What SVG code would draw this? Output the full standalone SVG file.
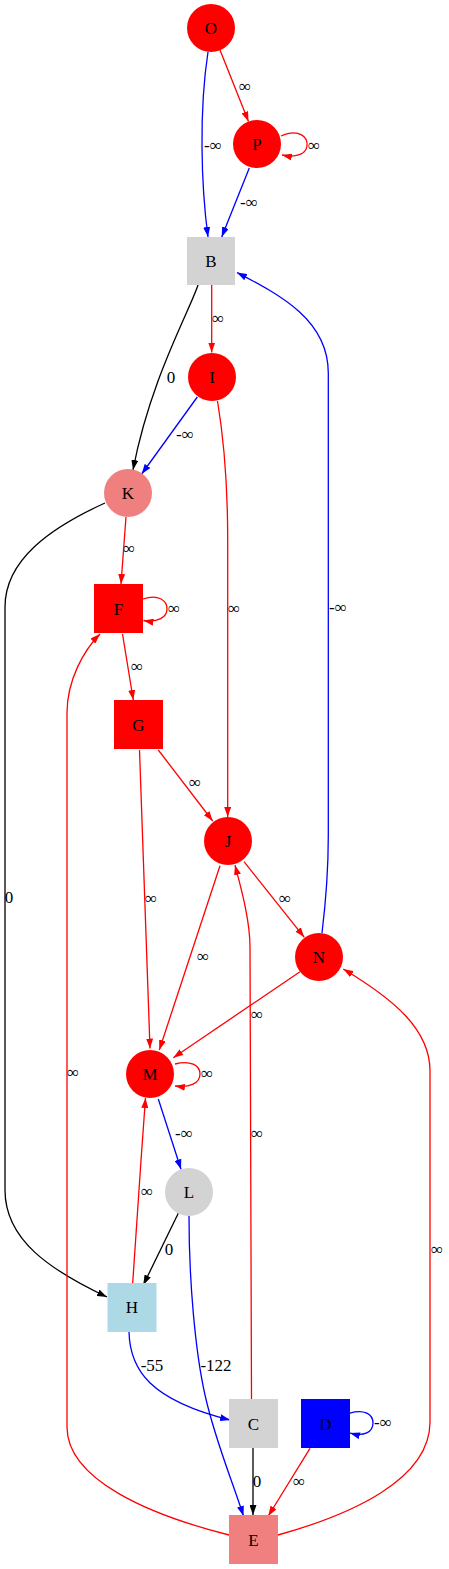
<svg xmlns="http://www.w3.org/2000/svg" width="449" height="1569" viewBox="0 0 449 1569">
<style>
.lbl{font-family:"Liberation Serif","Times New Roman",serif;font-size:17px;text-anchor:middle;fill:#000}
.e{fill:none;stroke-width:1.3}
.r{stroke:#ff0000}
.b{stroke:#0000ff}
.k{stroke:#000000}
</style>
<defs>
<marker id="ar" viewBox="0 0 10 7" refX="10" refY="3.5" markerWidth="10" markerHeight="7" markerUnits="userSpaceOnUse" orient="auto"><path d="M0,0 L10,3.5 L0,7 Z" fill="#ff0000"/></marker>
<marker id="ab" viewBox="0 0 10 7" refX="10" refY="3.5" markerWidth="10" markerHeight="7" markerUnits="userSpaceOnUse" orient="auto"><path d="M0,0 L10,3.5 L0,7 Z" fill="#0000ff"/></marker>
<marker id="ak" viewBox="0 0 10 7" refX="10" refY="3.5" markerWidth="10" markerHeight="7" markerUnits="userSpaceOnUse" orient="auto"><path d="M0,0 L10,3.5 L0,7 Z" fill="#000000"/></marker>
</defs>
<rect width="449" height="1569" fill="#ffffff"/>
<g id="edges">
<path class="e r" marker-end="url(#ar)" d="M220,50 L248.5,121.5"/>
<text class="lbl" x="245" y="92">∞</text>
<path class="e b" marker-end="url(#ab)" d="M208,52 C199,110 201,185 208,237"/>
<text class="lbl" x="213" y="151">-∞</text>
<path class="e r" marker-end="url(#ar)" d="M281,136 C299,128 308,137 307,146 C306,154 296,158 282,155"/>
<text class="lbl" x="314" y="151">∞</text>
<path class="e b" marker-end="url(#ab)" d="M249.3,168 L221.7,237"/>
<text class="lbl" x="249" y="208">-∞</text>
<path class="e r" marker-end="url(#ar)" d="M211.7,285 L211.7,352.5"/>
<text class="lbl" x="218" y="324">∞</text>
<path class="e k" marker-end="url(#ak)" d="M198,285 C190,310 150,380 133,470"/>
<text class="lbl" x="171" y="383">0</text>
<path class="e b" marker-end="url(#ab)" d="M197.3,397 L141.7,474"/>
<text class="lbl" x="185" y="440">-∞</text>
<path class="e r" marker-end="url(#ar)" d="M217.5,401 C224,440 227.7,480 227.7,540 L227.7,817"/>
<text class="lbl" x="234" y="614">∞</text>
<path class="e r" marker-end="url(#ar)" d="M126,517 L121,584"/>
<text class="lbl" x="129" y="554">∞</text>
<path class="e k" marker-end="url(#ak)" d="M105,503 C50,528 5,560 5,607 L5,1190 C5,1240 50,1270 107,1297"/>
<text class="lbl" x="9" y="903">0</text>
<path class="e r" marker-end="url(#ar)" d="M143,599 C158,594 167,600 167,609 C167,617 158,623 143.5,620.5"/>
<text class="lbl" x="174" y="614">∞</text>
<path class="e r" marker-end="url(#ar)" d="M122.5,634 L133.3,700"/>
<text class="lbl" x="137" y="672">∞</text>
<path class="e r" marker-end="url(#ar)" d="M158.3,750 L212.7,821"/>
<text class="lbl" x="195" y="788">∞</text>
<path class="e r" marker-end="url(#ar)" d="M139.5,750 L150,1048.5"/>
<text class="lbl" x="151" y="904">∞</text>
<path class="e r" marker-end="url(#ar)" d="M244,861.7 L304.3,937.3"/>
<text class="lbl" x="285" y="904">∞</text>
<path class="e r" marker-end="url(#ar)" d="M220,865.7 L159.3,1050"/>
<text class="lbl" x="203" y="962">∞</text>
<path class="e b" marker-end="url(#ab)" d="M322,933 C326,900 328.3,860 328.3,836 L328.3,373 C328.3,320 280,295 237,272.5"/>
<text class="lbl" x="338" y="613">-∞</text>
<path class="e r" marker-end="url(#ar)" d="M300,971.7 L173.3,1057.7"/>
<text class="lbl" x="257" y="1020">∞</text>
<path class="e r" marker-end="url(#ar)" d="M251.5,1399 L250,947 C250,920 241,888 235,865"/>
<text class="lbl" x="257" y="1139">∞</text>
<path class="e r" marker-end="url(#ar)" d="M175,1064 C190,1060 200,1065 200,1074 C200,1083 190,1088 175,1086"/>
<text class="lbl" x="207" y="1079">∞</text>
<path class="e b" marker-end="url(#ab)" d="M158.3,1099 L181,1169.3"/>
<text class="lbl" x="184" y="1139">-∞</text>
<path class="e r" marker-end="url(#ar)" d="M132.7,1283 C136,1230 141,1160 145.5,1098"/>
<text class="lbl" x="147" y="1197">∞</text>
<path class="e k" marker-end="url(#ak)" d="M178.3,1213.3 L143.3,1285"/>
<text class="lbl" x="169" y="1255">0</text>
<path class="e b" marker-end="url(#ab)" d="M189,1216 C189,1280 195,1350 205,1395 C215,1440 232,1480 243.5,1516"/>
<text class="lbl" x="216" y="1371">-122</text>
<path class="e b" marker-end="url(#ab)" d="M129,1332 C130,1370 150,1400 230,1420"/>
<text class="lbl" x="152" y="1371">-55</text>
<path class="e k" marker-end="url(#ak)" d="M253,1448 L253,1515"/>
<text class="lbl" x="257" y="1487">0</text>
<path class="e r" marker-end="url(#ar)" d="M310,1448.3 L268.3,1516"/>
<text class="lbl" x="299" y="1487">∞</text>
<path class="e b" marker-end="url(#ab)" d="M350,1413 C364,1409 373,1414 373,1423 C373,1432 364,1437 350,1433"/>
<text class="lbl" x="383" y="1428">-∞</text>
<path class="e r" marker-end="url(#ar)" d="M278,1535 C350,1515 430,1480 430,1422 L430,1071 C430,1030 395,1000 343.3,969"/>
<text class="lbl" x="437" y="1255">∞</text>
<path class="e r" marker-end="url(#ar)" d="M229,1535 C150,1515 67,1480 67,1427 L67,713 C67,680 84,650 100,634"/>
<text class="lbl" x="73" y="1078">∞</text>
</g>
<g id="O"><circle cx="211" cy="28" r="24" fill="#ff0000"/><text class="lbl" x="211" y="34">O</text></g>
<g id="P"><circle cx="257" cy="144" r="24" fill="#ff0000"/><text class="lbl" x="257" y="150">P</text></g>
<g id="B"><rect x="187" y="237" width="48" height="48" fill="#d3d3d3"/><text class="lbl" x="211" y="267">B</text></g>
<g id="I"><circle cx="212" cy="377" r="24" fill="#ff0000"/><text class="lbl" x="212" y="383">I</text></g>
<g id="K"><circle cx="128" cy="493" r="24" fill="#f08080"/><text class="lbl" x="128" y="499">K</text></g>
<g id="F"><rect x="94" y="584" width="49" height="49" fill="#ff0000"/><text class="lbl" x="118.5" y="614.5">F</text></g>
<g id="G"><rect x="114" y="700" width="49" height="49" fill="#ff0000"/><text class="lbl" x="138.5" y="730.5">G</text></g>
<g id="J"><circle cx="228" cy="841" r="24" fill="#ff0000"/><text class="lbl" x="228" y="847">J</text></g>
<g id="N"><circle cx="319" cy="957" r="24" fill="#ff0000"/><text class="lbl" x="319" y="963">N</text></g>
<g id="M"><circle cx="150" cy="1074" r="24" fill="#ff0000"/><text class="lbl" x="150" y="1080">M</text></g>
<g id="L"><circle cx="189" cy="1192" r="24" fill="#d3d3d3"/><text class="lbl" x="189" y="1198">L</text></g>
<g id="H"><rect x="107.5" y="1283" width="49" height="49" fill="#add8e6"/><text class="lbl" x="132" y="1313">H</text></g>
<g id="C"><rect x="229" y="1399" width="49" height="49" fill="#d3d3d3"/><text class="lbl" x="253.5" y="1429.5">C</text></g>
<g id="D"><rect x="301" y="1399" width="49" height="49" fill="#0000ff"/><text class="lbl" x="325.5" y="1429.5">D</text></g>
<g id="E"><rect x="229" y="1515" width="49" height="49" fill="#f08080"/><text class="lbl" x="253.5" y="1545.5">E</text></g>
</svg>
